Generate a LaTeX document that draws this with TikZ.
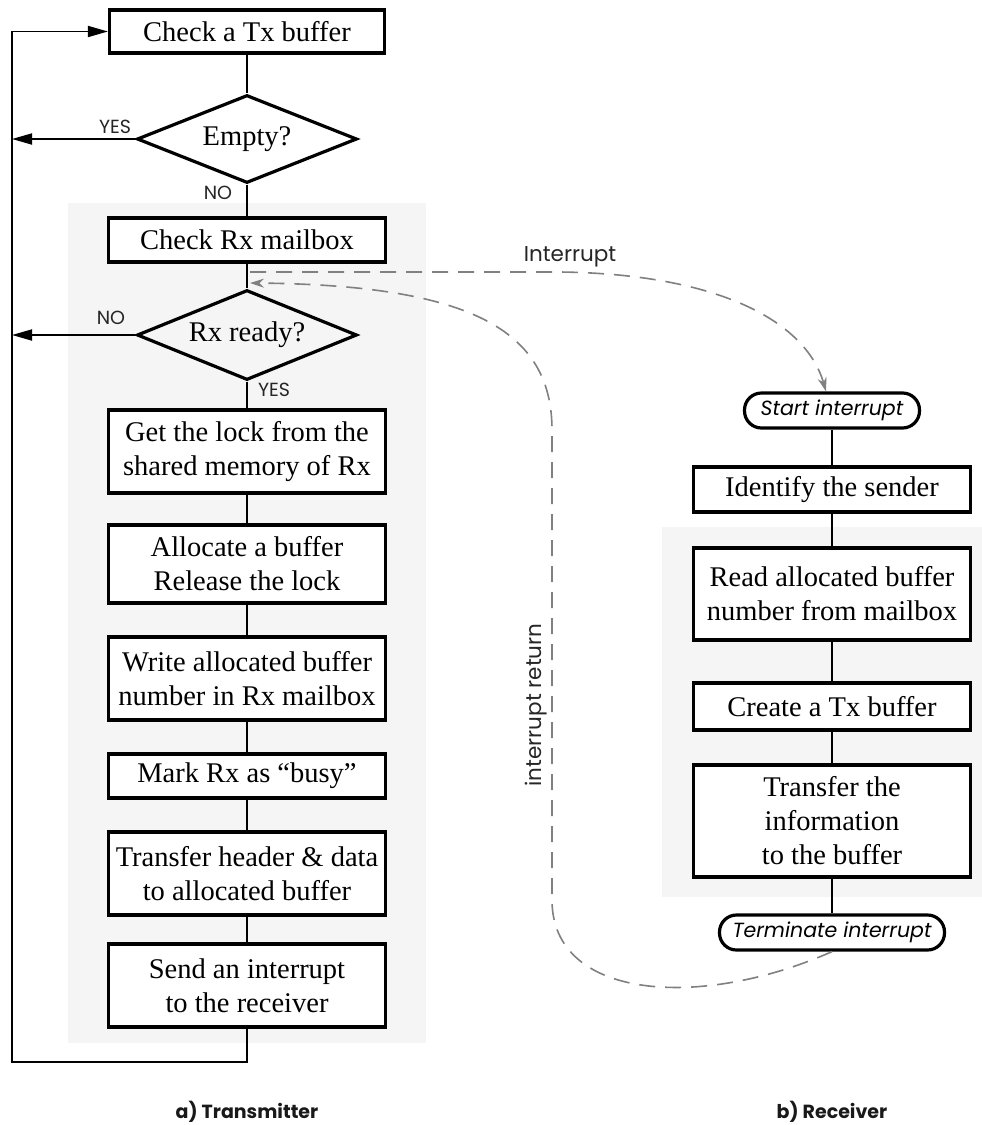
\documentclass[tikz,border=0pt]{standalone}
\usepackage{fontspec}
\setmainfont{Liberation Serif}
\newfontfamily\labfont{Poppins}
\usetikzlibrary{arrows.meta,shapes.geometric}
\begin{document}
\begin{tikzpicture}[x=1pt,y=-1pt,
  stepbox/.style={draw, line width=3.2pt, fill=white, minimum width=277pt,
    inner sep=2pt, align=center, font=\fontsize{28.5}{34}\selectfont},
  decision/.style={draw, diamond, aspect=2.5, line width=3.2pt, minimum width=220pt,
    minimum height=88pt, inner sep=0pt, font=\fontsize{28.5}{34}\selectfont},
  terminal/.style={draw, line width=3.2pt, fill=white, rounded corners=17pt,
    minimum height=35pt, inner sep=0pt, font=\labfont\itshape\fontsize{20.5}{24}\selectfont},
  link/.style={line width=1.6pt},
  looparrow/.style={line width=1.8pt, -{Triangle[length=20pt,width=11pt]}},
  flag/.style={font=\labfont\fontsize{19}{22}\selectfont, text=black!85, inner sep=1pt},
  siglabel/.style={font=\labfont\fontsize{21.5}{24}\selectfont, text=black!85, inner sep=1pt},
  caption/.style={font=\labfont\bfseries\fontsize{19}{22}\selectfont, text=black!90},
  signal/.style={draw=black!50, line width=1.6pt, dash pattern=on 16pt off 10pt,
    -{Stealth[length=14pt,width=9pt]}},
  panel/.style={fill=black!4, draw=none},
]
\useasboundingbox (0,0) rectangle (982,1125);

% shaded panels behind the two flows
\path[panel] (68,203) rectangle (426,1043);
\path[panel] (662,527) rectangle (982,897);

% transmitter flow
\node[stepbox, minimum height=43pt, minimum width=275pt] (tx1) at (247,31.5) {Check a Tx buffer};
\node[decision] (d1) at (247,139) {Empty?};
\node[stepbox, minimum height=44pt] (tx2) at (247,240) {Check Rx mailbox};
\node[decision, minimum height=90pt] (d2) at (247,335) {Rx ready?};
\node[stepbox, minimum height=83pt] (tx3) at (247,451.5) {Get the lock from the\\shared memory of Rx};
\node[stepbox, minimum height=78pt] (tx4) at (247,564) {Allocate a buffer\\Release the lock};
\node[stepbox, minimum height=83pt] (tx5) at (247,678.5) {Write allocated buffer\\number in Rx mailbox};
\node[stepbox, minimum height=44pt] (tx6) at (247,776) {Mark Rx as “busy”};
\node[stepbox, minimum height=83pt] (tx7) at (247,873.5) {Transfer header \& data\\to allocated buffer};
\node[stepbox, minimum height=83pt] (tx8) at (247,985.5) {Send an interrupt\\to the receiver};

\draw[link] (tx1.south) -- (d1.north);
\draw[link] (d1.south) -- (tx2.north);
\draw[link] (tx2.south) -- (d2.north);
\draw[link] (d2.south) -- (tx3.north);
\draw[link] (tx3.south) -- (tx4.north);
\draw[link] (tx4.south) -- (tx5.north);
\draw[link] (tx5.south) -- (tx6.north);
\draw[link] (tx6.south) -- (tx7.north);
\draw[link] (tx7.south) -- (tx8.north);

% return loop on the left
\coordinate (looptop) at (12,31.5);
\coordinate (loopbot) at (12,1062);
\draw[looparrow] (tx8.south) |- (loopbot) -- (looptop) -- (tx1.west);
\draw[looparrow] (d1.west) -- (d1.west -| looptop);
\draw[looparrow] (d2.west) -- (d2.west -| looptop);

\node[flag] (yes1) at (115,127) {YES};
\node[flag] (no1) at (218,193) {NO};
\node[flag] (no2) at (111,318) {NO};
\node[flag] (yes2) at (274,390) {YES};

% receiver flow
\node[terminal, minimum width=175pt] (rx0) at (832,410.5) {Start interrupt};
\node[stepbox, minimum height=45pt] (rx1) at (832,489.5) {Identify the sender};
\node[stepbox, minimum height=92pt] (rx2) at (832,594) {Read allocated buffer\\number from mailbox};
\node[stepbox, minimum height=47pt] (rx3) at (832,706.5) {Create a Tx buffer};
\node[stepbox, minimum height=112pt] (rx4) at (832,821) {Transfer the\\information\\to the buffer};
\node[terminal, minimum width=225pt] (rx5) at (832,932.5) {Terminate interrupt};

\draw[link] (rx0.south) -- (rx1.north);
\draw[link] (rx1.south) -- (rx2.north);
\draw[link] (rx2.south) -- (rx3.north);
\draw[link] (rx3.south) -- (rx4.north);
\draw[link] (rx4.south) -- (rx5.north);

% interrupt and interrupt return
\coordinate (irqout) at (250,272);
\coordinate (irqin) at (250,283);
\draw[signal] (irqout) -- (560,272) .. controls (720,274) and (806,322) .. ([xshift=-6pt]rx0.north);
\draw[signal] (rx5.south) .. controls (700,1010) and (552,1000) .. (552,900)
  -- (552,430) .. controls (552,330) and (470,285) .. (irqin);
\node[siglabel] (irqlab) at (570,257) {Interrupt};
\node[siglabel, rotate=90] (retlab) at (536,705) {interrupt return};

% captions
\node[caption] (capa) at (247,1112) {a) Transmitter};
\node[caption] (capb) at (832,1112) {b) Receiver};
\end{tikzpicture}
\end{document}
